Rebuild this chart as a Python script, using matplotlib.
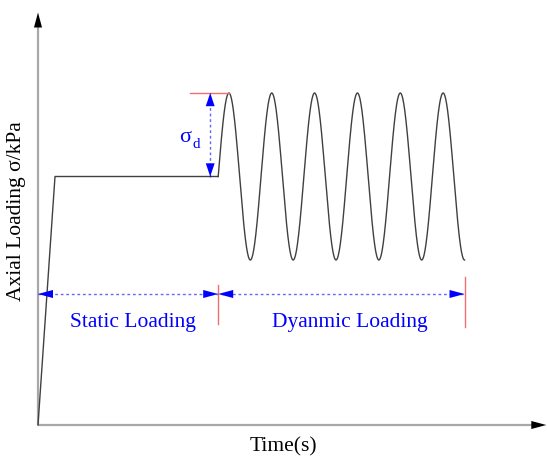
import numpy as np
import matplotlib
matplotlib.use("Agg")
import matplotlib.pyplot as plt

# ---- data (time units, stress units) ----
t_ramp_end = 1.0          # end of initial ramp
t_static_end = 10.6       # end of static loading
period = 2.52             # dynamic loading period
n_cycles = 5.75           # number of cycles drawn
sigma_static = 1.0        # static stress level
sigma_d = 0.336           # dynamic amplitude
t_axis_max = 29.9
s_axis_max = 1.66

static_t = [0.0, t_ramp_end, t_static_end]
static_s = [0.0, sigma_static, sigma_static]

t_dyn = np.linspace(t_static_end, t_static_end + n_cycles * period, 800)
s_dyn = sigma_static + sigma_d * np.sin(2 * np.pi * (t_dyn - t_static_end) / period)
t_end = t_dyn[-1]

labels = {"static": "Static Loading", "dynamic": "Dyanmic Loading",
          "x": "Time(s)", "y": "Axial Loading σ/kPa"}

# ---- figure ----
W, H = 547, 463
fig = plt.figure(figsize=(W / 100, H / 100), dpi=100)
ax = fig.add_axes([0, 0, 1, 1])
ax.axis("off")
xs, ys = 17.0, 248.5  # px per unit
x0, y0 = 38, 425
ax.set_xlim(-x0 / xs, (W - x0) / xs)
ax.set_ylim(-(H - y0) / ys, y0 / ys)

serif = ["Liberation Serif", "DejaVu Serif"]
blue = "#0000ff"
red = "#f07070"


def head(tip, tail, color, hl=1.08, hw=0.29):
    ax.annotate("", xy=tip, xytext=tail,
                arrowprops=dict(arrowstyle=f"-|>,head_length={hl},head_width={hw}",
                                color=color, lw=0, shrinkA=0, shrinkB=0))


# axes with arrows
ax.plot([0, 0], [0, s_axis_max - 0.03], color="#a8a8a8", lw=1.6, solid_capstyle="butt")
ax.plot([0, t_axis_max - 0.5], [0, 0], color="#a8a8a8", lw=1.6, solid_capstyle="butt")
head((0, s_axis_max), (0, s_axis_max - 0.2), "black")
head((t_axis_max, 0), (t_axis_max - 2, 0), "black")

# loading curve
ax.plot(static_t, static_s, color="#404040", lw=1.0)
ax.plot(t_dyn, s_dyn, color="#404040", lw=1.0)

# sigma_d annotation
s_peak = sigma_static + sigma_d
t_peak = t_static_end + period / 4
xa = t_static_end - 0.47
ax.plot([xa - 1.2, t_peak], [s_peak, s_peak], color=red, lw=1.0)
ax.plot([xa, xa], [sigma_static, s_peak], color=blue, lw=1.0, ls=(0, (2, 2)), alpha=0.6)
head((xa, s_peak), (xa, s_peak - 0.1), blue, hl=0.95, hw=0.32)
head((xa, sigma_static), (xa, sigma_static + 0.1), blue, hl=0.95, hw=0.32)
ax.text(xa - 1.15, sigma_static + sigma_d * 0.47, "σ", color=blue, fontsize=16,
        family=serif, ha="right", va="center")
ax.text(xa - 1.05, sigma_static + sigma_d * 0.38, "d", color=blue, fontsize=11,
        family=serif, ha="left", va="center")

# span annotations
ya = (y0 - 294) / ys
ax.plot([0, t_end], [ya, ya], color=blue, lw=1.0, ls=(0, (2, 2)), alpha=0.6)
head((0, ya), (0.5, ya), blue)
head((t_static_end, ya), (t_static_end - 0.5, ya), blue)
head((t_static_end, ya), (t_static_end + 0.5, ya), blue)
head((t_end, ya), (t_end - 0.5, ya), blue)
ax.plot([t_static_end, t_static_end], [(y0 - 324) / ys, (y0 - 285) / ys], color=red, lw=1.0)
ax.plot([t_end, t_end], [(y0 - 327) / ys, (y0 - 277) / ys], color=red, lw=1.0)
yt = (y0 - 322) / ys
ax.text(t_static_end / 2 + 0.3, yt, labels["static"], color=blue, fontsize=15.5,
        family=serif, ha="center", va="center")
ax.text((t_static_end + t_end) / 2 + 0.5, yt, labels["dynamic"], color=blue, fontsize=15.5,
        family=serif, ha="center", va="center")

# axis labels
ax.text((283 - x0) / xs, (y0 - 447) / ys, labels["x"], fontsize=15.5, family=serif,
        ha="center", va="center")
ax.text((17 - x0) / xs, (y0 - 211) / ys, labels["y"], fontsize=15.5, family=serif,
        ha="center", va="center", rotation=90)

fig.savefig("out.png", dpi=100)
